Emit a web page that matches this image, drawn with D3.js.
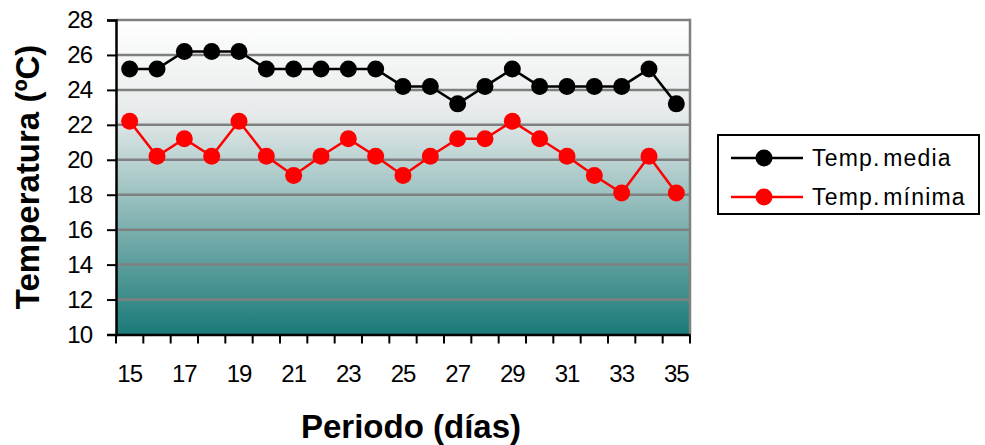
<!DOCTYPE html>
<html>
<head>
<meta charset="utf-8">
<script src="https://cdn.jsdelivr.net/npm/d3@7"></script>
<style>
  body { margin: 0; background: #fff; }
  svg { display: block; font-family: "Liberation Sans", Arial, sans-serif; }
</style>
</head>
<body>
<div id="chart-area"></div>
<script>
// Data
const days = [15,16,17,18,19,20,21,22,23,24,25,26,27,28,29,30,31,32,33,34,35]
const tempMedia  = [25.2,25.2,26.2,26.2,26.2,25.2,25.2,25.2,25.2,25.2,24.2,24.2,23.2,24.2,25.2,24.2,24.2,24.2,24.2,25.2,23.2]
const tempMinima = [22.2,20.2,21.2,20.2,22.2,20.2,19.1,20.2,21.2,20.2,19.1,20.2,21.2,21.2,22.2,21.2,20.2,19.1,18.1,20.2,18.1]
const yTicks = [10,12,14,16,18,20,22,24,26,28]
const xLabels = [15,17,19,21,23,25,27,29,31,33,35]
const seriesNames = ["Temp. media", "Temp. mínima"]
const seriesColors = ["#000000", "#ff0000"]

// Config
const W = 985, H = 445
const plot = {left: 116, right: 690, top: 20, bottom: 334.5}

const svg = d3.select("#chart-area")
  .append("svg")
    .attr("width", W)
    .attr("height", H)

// Gradient
const grad = svg.append("defs").append("linearGradient")
  .attr("id", "bg").attr("x1", 0).attr("y1", 0).attr("x2", 0).attr("y2", 1)
grad.append("stop").attr("offset", "0%").attr("stop-color", "#ffffff")
grad.append("stop").attr("offset", "30%").attr("stop-color", "#e6eaea")
grad.append("stop").attr("offset", "100%").attr("stop-color", "#1a7a78")

// Scales
const x = d3.scaleBand().domain(days).range([plot.left, plot.right]).padding(0)
const y = d3.scaleLinear().domain([10, 28]).range([plot.bottom, plot.top])
const cx = d => x(d) + x.bandwidth() / 2

// Plot background
svg.append("rect")
  .attr("x", plot.left).attr("y", plot.top)
  .attr("width", plot.right - plot.left).attr("height", plot.bottom - plot.top)
  .attr("fill", "url(#bg)")

// Gridlines
svg.append("g").selectAll("line")
  .data(yTicks.filter(t => t > 10))
  .join("line")
    .attr("x1", plot.left).attr("x2", plot.right)
    .attr("y1", d => y(d)).attr("y2", d => y(d))
    .attr("stroke", "#808080").attr("stroke-width", 2.5)

// Right border
svg.append("line")
  .attr("x1", plot.right).attr("x2", plot.right)
  .attr("y1", plot.top - 1.25).attr("y2", plot.bottom)
  .attr("stroke", "#808080").attr("stroke-width", 2.5)

// Y axis
const yAxis = d3.axisLeft(y).tickValues(yTicks).tickSize(9).tickPadding(15)
const y_axis = svg.append("g")
  .attr("transform", "translate(" + plot.left + ",0)")
  .call(yAxis)
y_axis.select(".domain").attr("stroke", "#000").attr("stroke-width", 2.5)
y_axis.selectAll(".tick line").attr("stroke", "#000").attr("stroke-width", 2)
y_axis.selectAll("text")
  .attr("fill", "#000").style("font-size", "24px").style("letter-spacing", "-1px")

// X axis
const xAxis = d3.axisBottom(x).tickValues(xLabels).tickSize(0).tickPadding(30)
const x_axis = svg.append("g")
  .attr("transform", "translate(0," + plot.bottom + ")")
  .call(xAxis)
x_axis.select(".domain").attr("stroke", "#000").attr("stroke-width", 2.5)
x_axis.selectAll("text")
  .attr("fill", "#000").style("font-size", "24px").style("letter-spacing", "-1px")

// X ticks at category boundaries
svg.append("g").selectAll("line")
  .data(days.concat([null]))
  .join("line")
    .attr("x1", (d, i) => plot.left + i * x.bandwidth())
    .attr("x2", (d, i) => plot.left + i * x.bandwidth())
    .attr("y1", plot.bottom).attr("y2", plot.bottom + 9)
    .attr("stroke", "#000").attr("stroke-width", 2)

// Series
const line = d3.line().x((d, i) => cx(days[i])).y(d => y(d))
const allSeries = [tempMedia, tempMinima]
allSeries.forEach((vals, s) => {
  svg.append("path")
    .attr("d", line(vals))
    .attr("fill", "none")
    .attr("stroke", seriesColors[s])
    .attr("stroke-width", 2.5)
  svg.append("g").selectAll("circle")
    .data(vals)
    .join("circle")
      .attr("cx", (d, i) => cx(days[i]))
      .attr("cy", d => y(d))
      .attr("r", 8.5)
      .attr("fill", seriesColors[s])
})

// Axis titles
svg.append("text")
  .attr("transform", "translate(39,177) rotate(-90)")
  .attr("text-anchor", "middle")
  .attr("font-weight", "bold")
  .attr("font-size", "33px")
  .text("Temperatura (ºC)")

svg.append("text")
  .attr("x", 411).attr("y", 438)
  .attr("text-anchor", "middle")
  .attr("font-weight", "bold")
  .attr("font-size", "33px")
  .text("Periodo (días)")

// Legend
const legend = svg.append("g")
legend.append("rect")
  .attr("x", 718).attr("y", 135).attr("width", 261).attr("height", 79)
  .attr("fill", "#fff").attr("stroke", "#000").attr("stroke-width", 2)
seriesNames.forEach((name, i) => {
  const ly = 158 + i * 39
  legend.append("line")
    .attr("x1", 731).attr("x2", 803).attr("y1", ly).attr("y2", ly)
    .attr("stroke", seriesColors[i]).attr("stroke-width", 2.5)
  legend.append("circle")
    .attr("cx", 764).attr("cy", ly).attr("r", 8.5).attr("fill", seriesColors[i])
  legend.append("text")
    .attr("x", 812).attr("y", ly + 8)
    .attr("font-size", "23px")
    .style("letter-spacing", "1.2px")
    .style("word-spacing", "-5px")
    .text(name)
})
</script>
</body>
</html>
